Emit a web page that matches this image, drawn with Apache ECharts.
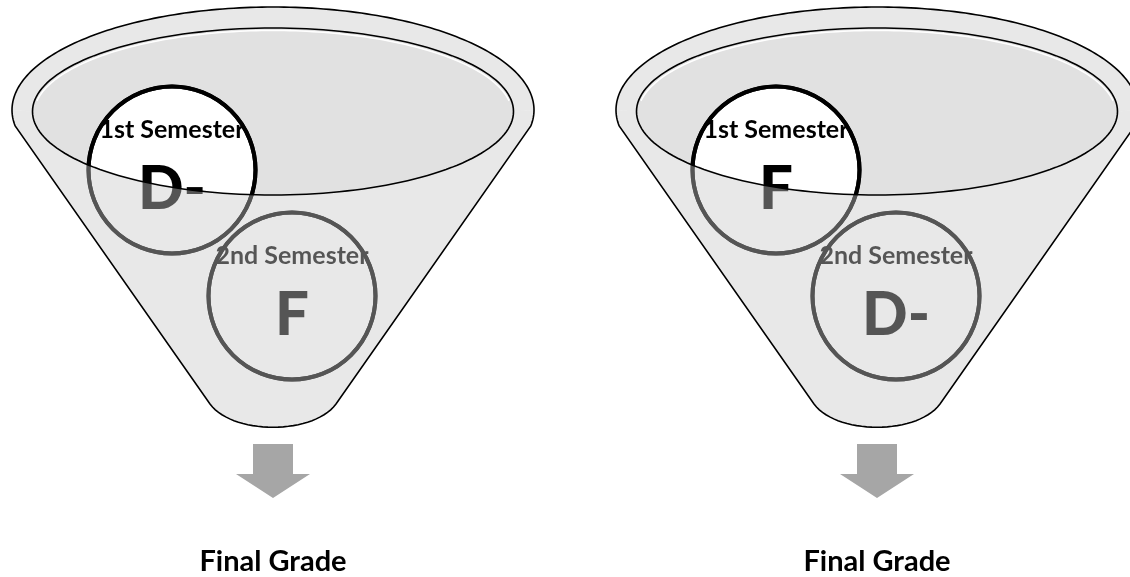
<!DOCTYPE html>
<html>
<head>
<meta charset="utf-8">
<title>Final Grade</title>
<script src="https://cdn.jsdelivr.net/npm/echarts@6/dist/echarts.min.js"></script>
<style>
  html, body { margin: 0; padding: 0; background: #fff; }
  #main { width: 1130px; height: 577px; }
</style>
</head>
<body>
<div id="main"></div>
<script>
// data
var semesters = ['1st Semester', '2nd Semester'];
var firstGrades = ['D-', 'F'];
var secondGrades = ['F', 'D-'];
var finalLabel = 'Final Grade';

// layout (pixels, axes map 1:1)
var funnelCx = [273, 877];
var circleDx = [-101, 19];
var circleY = [170, 296];
var FONT = 'Lato, "Open Sans", sans-serif';

var OCY = 110, ORX = 261, ORY = 103;
var ICY = 111.5, IRX = 240.5, IRY = 83.5;
var SIDE_A = Math.asin(16 / ORY);
var BOT_Y = 404, BOT_X = 63, BOT_C = 435;

// 椭圆弧上的点
function arcPts(cx, cy, rx, ry, a0, a1, n) {
    var pts = [];
    for (var k = 0; k <= n; k++) {
        var a = a0 + (a1 - a0) * k / n;
        pts.push([cx + rx * Math.cos(a), cy + ry * Math.sin(a)]);
    }
    return pts;
}
// 漏斗底部曲线
function bottomPts(cx) {
    var p0 = [cx + BOT_X, BOT_Y], p1 = [cx + 40, BOT_C], p2 = [cx - 40, BOT_C], p3 = [cx - BOT_X, BOT_Y];
    var pts = [];
    for (var k = 0; k <= 30; k++) {
        var t = k / 30, u = 1 - t;
        pts.push([
            u * u * u * p0[0] + 3 * u * u * t * p1[0] + 3 * u * t * t * p2[0] + t * t * t * p3[0],
            u * u * u * p0[1] + 3 * u * u * t * p1[1] + 3 * u * t * t * p2[1] + t * t * t * p3[1]
        ]);
    }
    return pts;
}
function backPts(cx) {
    return arcPts(cx, OCY, ORX, ORY, Math.PI, 2 * Math.PI, 120)
        .concat([[cx + IRX, ICY], [cx - IRX, ICY]]);
}
function frontPts(cx) {
    return arcPts(cx, ICY, IRX, IRY, Math.PI, 0, 120)
        .concat(arcPts(cx, OCY, ORX, ORY, 0, SIDE_A, 6))
        .concat(bottomPts(cx))
        .concat(arcPts(cx, OCY, ORX, ORY, Math.PI - SIDE_A, Math.PI, 6));
}
function outlinePts(cx) {
    return arcPts(cx, OCY, ORX, ORY, Math.PI - SIDE_A, 2 * Math.PI + SIDE_A, 160)
        .concat(bottomPts(cx));
}

var graphics = [];
var circles = [];
for (var i = 0; i < funnelCx.length; i++) {
    var cx = funnelCx[i];
    var grades = [firstGrades[i], secondGrades[i]];
    for (var j = 0; j < semesters.length; j++) {
        circles.push({ value: [cx + circleDx[j], circleY[j]], sem: semesters[j], grade: grades[j] });
    }
    // 漏斗后层
    graphics.push({ type: 'polygon', z: 1, z2: 0, silent: true, shape: { points: backPts(cx) }, style: { fill: '#e8e8e8' } });
    graphics.push({ type: 'polygon', z: 1, z2: 1, silent: true, shape: { points: arcPts(cx, ICY, IRX, IRY, 0, 2 * Math.PI, 180) }, style: { fill: '#e1e1e1' } });
    graphics.push({ type: 'polyline', z: 1, z2: 2, silent: true, shape: { points: arcPts(cx, ICY + 2.5, IRX - 1.5, IRY, Math.PI * 1.05, Math.PI * 1.95, 120) }, style: { stroke: '#fff', lineWidth: 1.5 } });
    // 漏斗前层（半透明）
    graphics.push({ type: 'polygon', z: 10, silent: true, shape: { points: frontPts(cx) }, style: { fill: 'rgba(201,201,201,0.4235)' } });
    // 轮廓
    graphics.push({ type: 'polygon', z: 11, silent: true, shape: { points: arcPts(cx, ICY, IRX, IRY, 0, 2 * Math.PI, 180) }, style: { fill: null, stroke: '#000', lineWidth: 1.6 } });
    graphics.push({ type: 'polygon', z: 11, silent: true, shape: { points: outlinePts(cx) }, style: { fill: null, stroke: '#000', lineWidth: 1.6 } });
    // 箭头
    graphics.push({
        type: 'polygon', z: 11, silent: true,
        shape: { points: [[cx - 20, 444], [cx + 20, 444], [cx + 20, 474], [cx + 37, 474], [cx, 498], [cx - 37, 474], [cx - 20, 474]] },
        style: { fill: '#a6a6a6' }
    });
    graphics.push({
        type: 'text', z: 11, silent: true, x: cx, y: 562,
        style: { text: finalLabel, font: 'bold 29px ' + FONT, fill: '#000', align: 'center', verticalAlign: 'middle' }
    });
}

var myChart = echarts.init(document.getElementById('main'));
var option = {
    animation: false,
    grid: { left: 0, right: 0, top: 0, bottom: 0 },
    xAxis: { type: 'value', min: 0, max: 1130, show: false },
    yAxis: { type: 'value', min: 0, max: 577, inverse: true, show: false },
    graphic: { elements: graphics },
    series: [
        {
            type: 'scatter', z: 3, silent: true, clip: false,
            symbol: 'circle', symbolSize: 167,
            itemStyle: { color: '#fff', borderColor: '#000', borderWidth: 4, opacity: 1 },
            label: {
                show: true, position: 'inside', color: '#000',
                formatter: function (p) { return '{s|' + p.data.sem + '}\n{g|' + p.data.grade + '}'; },
                rich: {
                    s: { fontFamily: FONT, fontWeight: 'bold', fontSize: 25, lineHeight: 40, color: '#000' },
                    g: { fontFamily: FONT, fontWeight: 900, fontSize: 60, lineHeight: 80, color: '#000' }
                }
            },
            data: circles
        },
        {
            type: 'scatter', z: 4, silent: true, clip: false,
            symbol: 'circle', symbolSize: 167,
            itemStyle: { color: 'rgba(0,0,0,0)', borderColor: '#000', borderWidth: 4, opacity: 1 },
            data: circles
        }
    ]
};
myChart.setOption(option);

window.addEventListener('resize', function () { myChart.resize(); });
</script>
</body>
</html>
